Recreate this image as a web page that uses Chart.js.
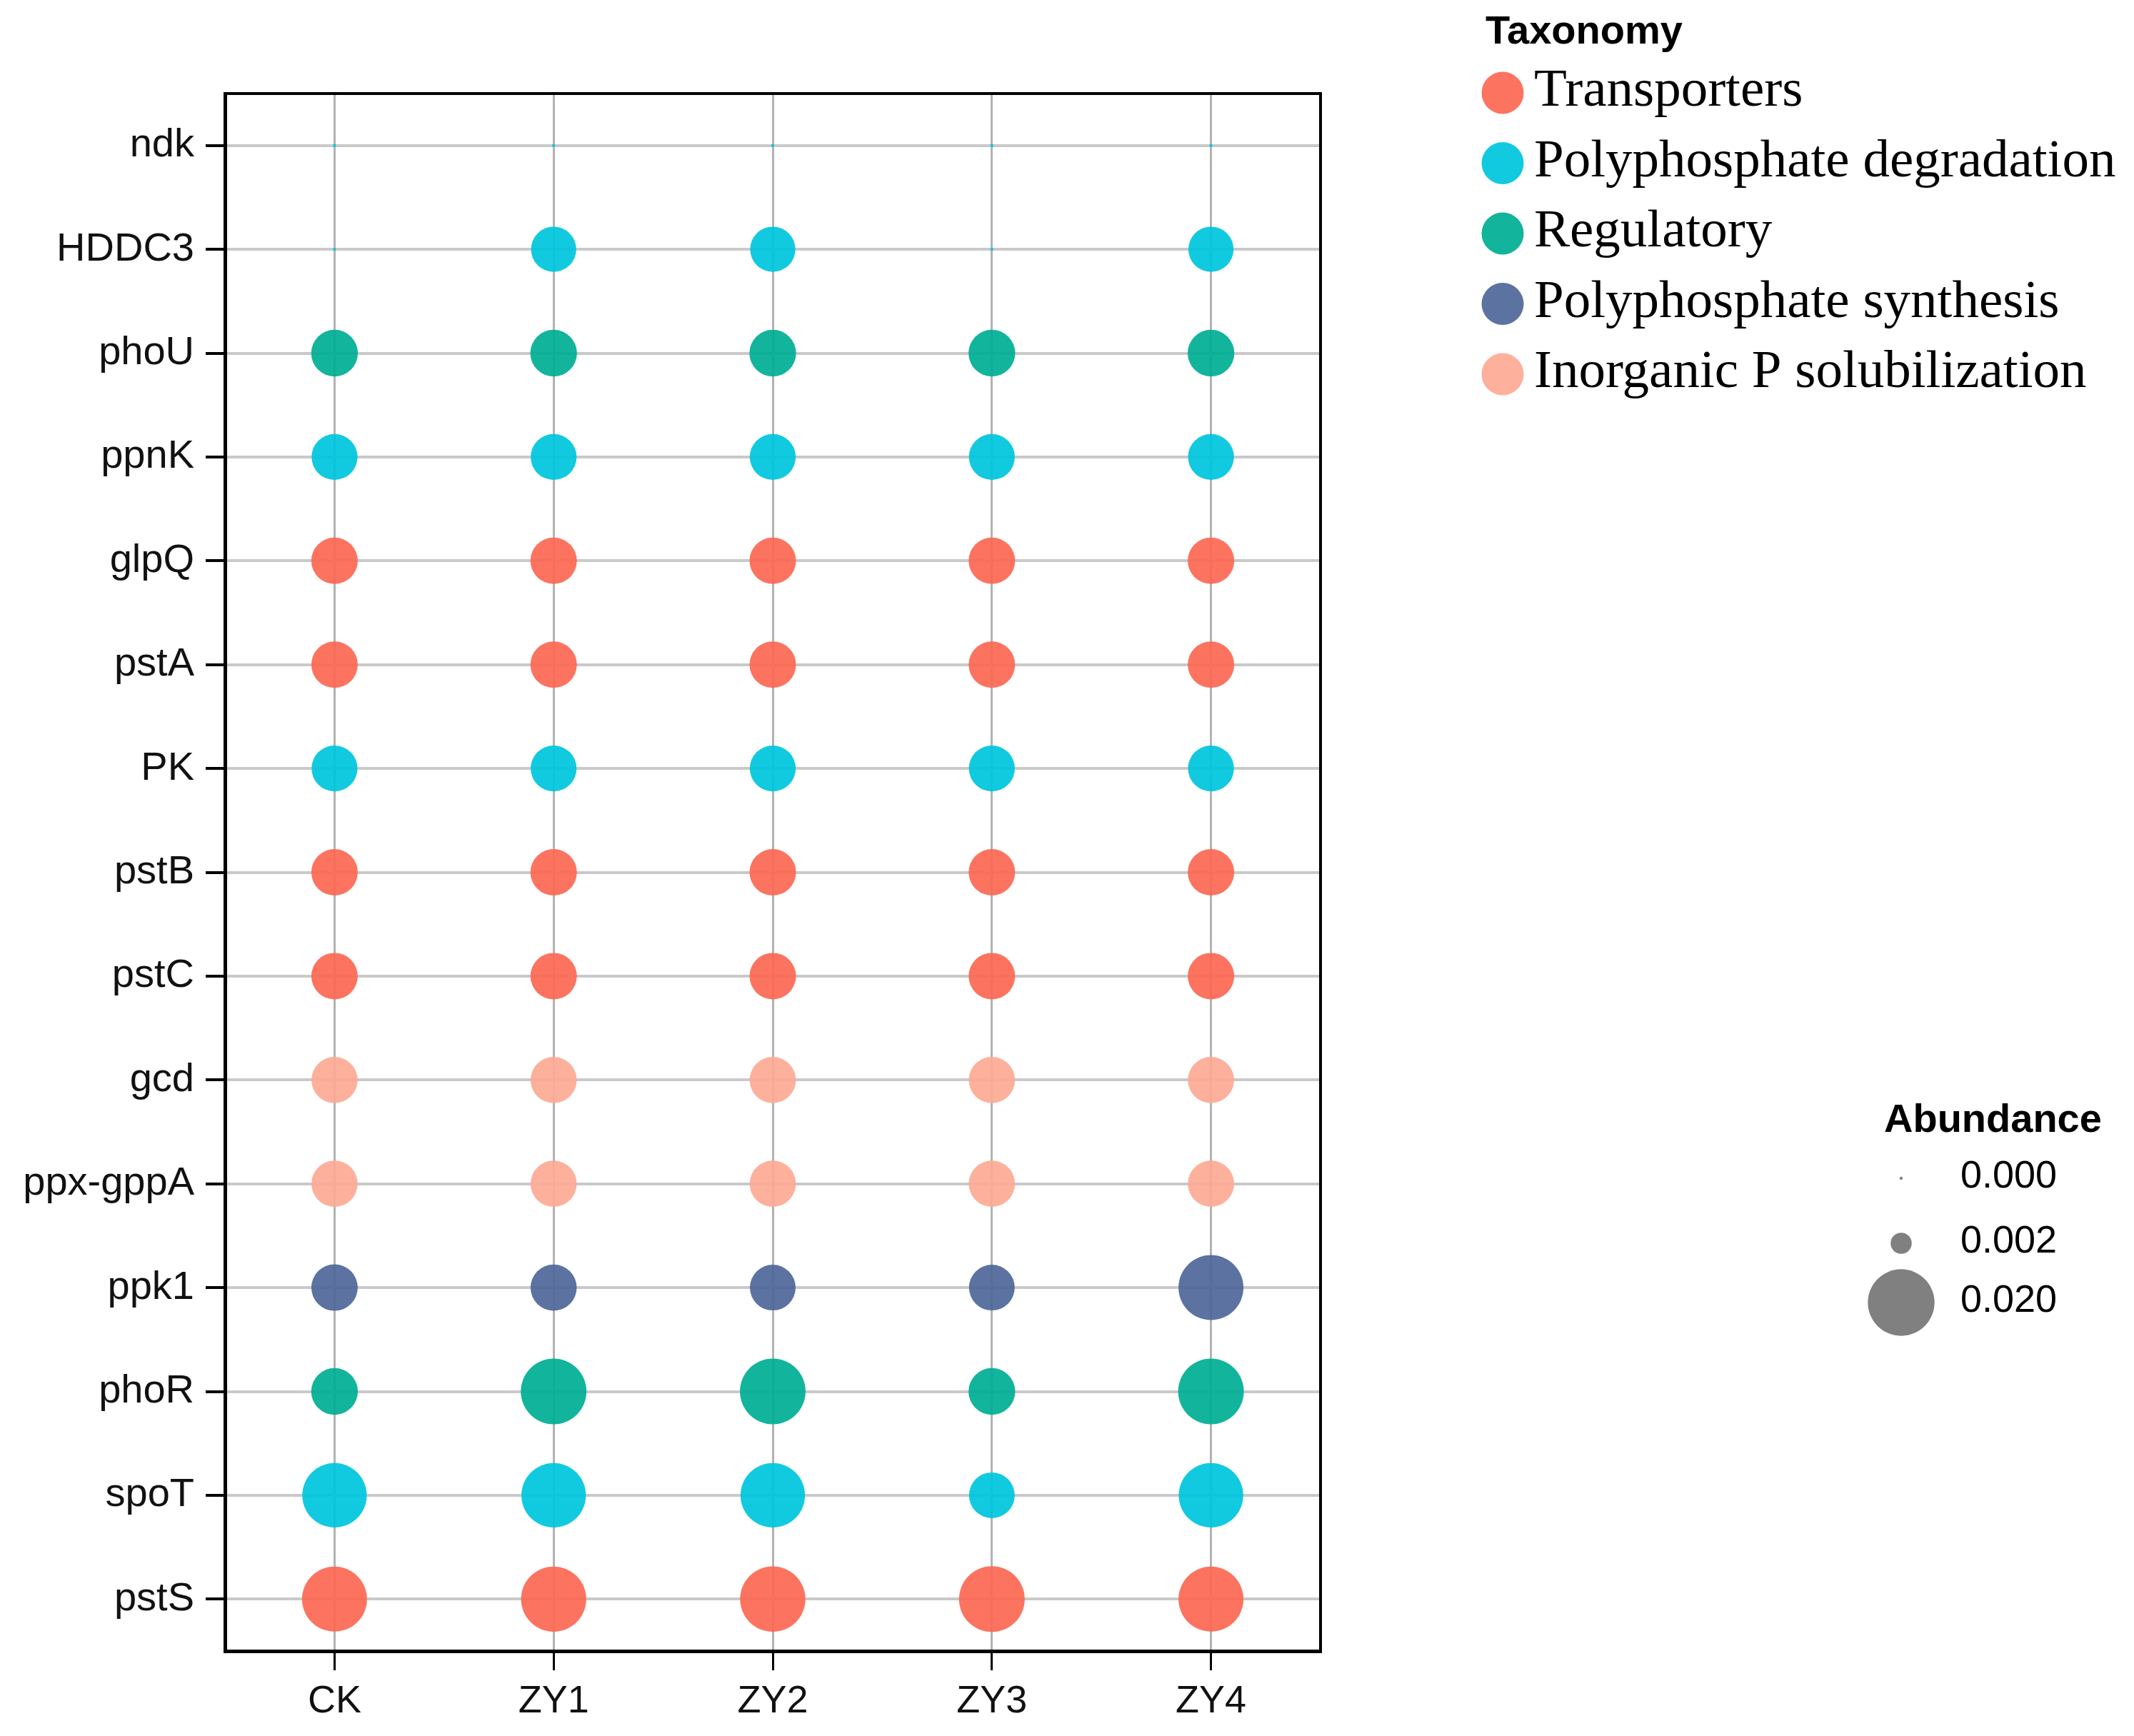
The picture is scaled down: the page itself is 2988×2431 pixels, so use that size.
<!DOCTYPE html>
<html>
<head>
<meta charset="utf-8">
<title>Phosphorus cycling genes</title>
<script src="https://cdn.jsdelivr.net/npm/chart.js@4.4.1/dist/chart.umd.min.js"></script>
<style>
  html, body { margin:0; padding:0; background:#fff; }
  #wrap { width:2988px; height:2431px; }
</style>
</head>
<body>
<div id="wrap"><canvas id="chart" width="2988" height="2431"></canvas></div>
<script>
// samples on x, genes on y (top to bottom)
const samples = ['CK', 'ZY1', 'ZY2', 'ZY3', 'ZY4'];
const genes = ['ndk', 'HDDC3', 'phoU', 'ppnK', 'glpQ', 'pstA', 'PK', 'pstB', 'pstC', 'gcd', 'ppx-gppA', 'ppk1', 'phoR', 'spoT', 'pstS'];

const groups = ['Transporters', 'Polyphosphate degradation', 'Regulatory', 'Polyphosphate synthesis', 'Inorganic P solubilization'];
const groupColors = ['rgba(252,104,84,0.93)', 'rgba(0,198,221,0.93)', 'rgba(0,174,148,0.93)', 'rgba(80,104,154,0.93)', 'rgba(253,170,148,0.93)'];

// taxonomy of each gene, same order as genes
const geneGroup = [
  'Polyphosphate degradation', 'Polyphosphate degradation', 'Regulatory', 'Polyphosphate degradation',
  'Transporters', 'Transporters', 'Polyphosphate degradation', 'Transporters', 'Transporters',
  'Inorganic P solubilization', 'Inorganic P solubilization', 'Polyphosphate synthesis',
  'Regulatory', 'Polyphosphate degradation', 'Transporters'
];

// relative abundance per sample, same order as genes
const abundCK  = [0.00003, 0.00003, 0.0098, 0.0095, 0.0097, 0.0097, 0.0095, 0.0097, 0.0097, 0.0096, 0.0096, 0.0097, 0.0098, 0.0187, 0.0190];
const abundZY1 = [0.00003, 0.0092, 0.0098, 0.0095, 0.0097, 0.0097, 0.0095, 0.0097, 0.0097, 0.0096, 0.0096, 0.0096, 0.0194, 0.0187, 0.0191];
const abundZY2 = [0.00003, 0.0092, 0.0098, 0.0095, 0.0097, 0.0097, 0.0095, 0.0097, 0.0097, 0.0096, 0.0096, 0.0094, 0.0194, 0.0187, 0.0192];
const abundZY3 = [0.00003, 0.00003, 0.0098, 0.0095, 0.0097, 0.0097, 0.0095, 0.0097, 0.0097, 0.0096, 0.0096, 0.0094, 0.0098, 0.0094, 0.0194];
const abundZY4 = [0.00003, 0.0092, 0.0098, 0.0095, 0.0097, 0.0097, 0.0095, 0.0097, 0.0097, 0.0096, 0.0096, 0.0190, 0.0194, 0.0187, 0.0190];
const abundance = { CK: abundCK, ZY1: abundZY1, ZY2: abundZY2, ZY3: abundZY3, ZY4: abundZY4 };

const sizeBreaks = [0.000, 0.002, 0.020];
const sizeLabels = ['0.000', '0.002', '0.020'];

// bubble area proportional to abundance
function radiusOf(v){ return Math.max(2.2, 330 * Math.sqrt(v)); }

const datasets = groups.map((g, gi) => {
  const data = [];
  samples.forEach(s => {
    genes.forEach((gene, i) => {
      if (geneGroup[i] === g) data.push({ x: s, y: gene, v: abundance[s][i] });
    });
  });
  return {
    label: g,
    data: data,
    backgroundColor: groupColors[gi],
    borderWidth: 0,
    radius: ctx => radiusOf(ctx.raw.v),
    hoverRadius: 0
  };
});

const sans = "'Liberation Sans', Arial, sans-serif";
const serif = "'Liberation Serif', 'Times New Roman', serif";

const legendPlugin = {
  id: 'legends',
  afterDraw(chart){
    const c = chart.ctx, a = chart.chartArea;
    c.save();
    // panel frame
    c.strokeStyle = '#000'; c.lineWidth = 4;
    c.strokeRect(a.left, a.top, a.right - a.left, a.bottom - a.top);

    // taxonomy legend
    c.fillStyle = '#000';
    c.textAlign = 'left';
    c.textBaseline = 'alphabetic';
    c.font = 'bold 56px ' + sans;
    c.fillText('Taxonomy', 2080, 61);
    c.font = '75px ' + serif;
    groups.forEach((g, i) => {
      const cy = 130 + i * 98.5;
      c.fillStyle = groupColors[i];
      c.beginPath(); c.arc(2104, cy, 29.5, 0, Math.PI * 2); c.fill();
      c.fillStyle = '#000';
      c.fillText(g, 2148, cy + 18);
    });

    // abundance legend
    c.font = 'bold 56px ' + sans;
    c.fillText('Abundance', 2638, 1585);
    c.font = '54px ' + sans;
    const ys = [1650, 1741, 1824];
    sizeBreaks.forEach((v, i) => {
      c.fillStyle = 'rgba(128,128,128,1)';
      c.beginPath(); c.arc(2662, ys[i], radiusOf(v), 0, Math.PI * 2); c.fill();
      c.fillStyle = '#000';
      c.fillText(sizeLabels[i], 2745, ys[i] + 13);
    });
    c.restore();
  }
};

new Chart(document.getElementById('chart'), {
  type: 'bubble',
  data: { datasets: datasets },
  plugins: [legendPlugin],
  options: {
    responsive: false,
    animation: false,
    devicePixelRatio: 1,
    layout: { padding: { top: 131, left: 0, right: 1139, bottom: 0 } },
    plugins: { legend: { display: false }, tooltip: { enabled: false } },
    scales: {
      x: {
        type: 'category',
        labels: samples,
        offset: true,
        afterFit: s => { s.height = 119; },
        grid: { color: 'rgba(165,165,165,0.85)', lineWidth: 3, tickLength: 27, tickColor: '#000', tickWidth: 3 },
        border: { display: true, color: '#000', width: 5 },
        ticks: { color: '#111', font: { family: sans, size: 54 }, padding: 12, maxRotation: 0 }
      },
      y: {
        type: 'category',
        labels: genes,
        offset: true,
        afterFit: s => { s.width = 315; },
        grid: { color: 'rgba(195,195,195,0.9)', lineWidth: 4, tickLength: 27, tickColor: '#000', tickWidth: 4 },
        border: { display: true, color: '#000', width: 5 },
        ticks: { color: '#111', font: { family: sans, size: 56 }, padding: 16 }
      }
    }
  }
});
</script>
</body>
</html>
